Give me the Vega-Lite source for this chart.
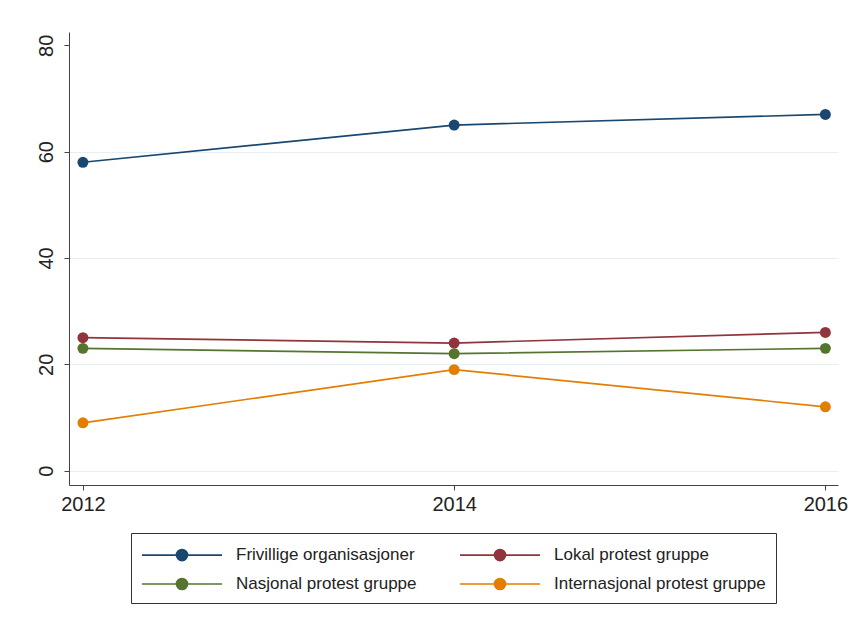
{
  "$schema": "https://vega.github.io/schema/vega-lite/v6.json",
  "width": 769,
  "height": 453,
  "padding": {"left": 69, "top": 32, "right": 17, "bottom": 142},
  "autosize": {"type": "none"},
  "background": "white",
  "data": {
    "values": [
      {"year": 2012, "series": "Frivillige organisasjoner", "value": 58},
      {"year": 2014, "series": "Frivillige organisasjoner", "value": 65},
      {"year": 2016, "series": "Frivillige organisasjoner", "value": 67},
      {"year": 2012, "series": "Lokal protest gruppe", "value": 25},
      {"year": 2014, "series": "Lokal protest gruppe", "value": 24},
      {"year": 2016, "series": "Lokal protest gruppe", "value": 26},
      {"year": 2012, "series": "Nasjonal protest gruppe", "value": 23},
      {"year": 2014, "series": "Nasjonal protest gruppe", "value": 22},
      {"year": 2016, "series": "Nasjonal protest gruppe", "value": 23},
      {"year": 2012, "series": "Internasjonal protest gruppe", "value": 9},
      {"year": 2014, "series": "Internasjonal protest gruppe", "value": 19},
      {"year": 2016, "series": "Internasjonal protest gruppe", "value": 12}
    ]
  },
  "mark": {"type": "line", "strokeWidth": 1.7, "point": {"filled": true, "size": 120, "opacity": 1}},
  "encoding": {
    "x": {
      "field": "year", "type": "quantitative",
      "scale": {"domain": [2011.925, 2016.068], "nice": false, "zero": false},
      "axis": {"values": [2012, 2014, 2016], "format": "d", "title": null, "grid": false, "labelPadding": 4}
    },
    "y": {
      "field": "value", "type": "quantitative",
      "scale": {"domain": [-2.7, 82.5], "nice": false, "zero": false},
      "axis": {
        "values": [0, 20, 40, 60, 80], "title": null, "labelAngle": -90,
        "labelAlign": "center", "labelBaseline": "bottom", "labelPadding": 8,
        "grid": true,
        "gridColor": {"condition": {"test": "datum.value == 80", "value": "transparent"}, "value": "#e6eff2"}
      }
    },
    "color": {
      "field": "series", "type": "nominal",
      "scale": {
        "domain": ["Frivillige organisasjoner", "Lokal protest gruppe", "Nasjonal protest gruppe", "Internasjonal protest gruppe"],
        "range": ["#1a476f", "#90353b", "#55752f", "#e37e00"]
      },
      "legend": {
        "title": null, "orient": "bottom", "direction": "horizontal", "columns": 2,
        "symbolType": "M-1,0L6.273,0M2.136,0A0.5,0.5 0 1,1 3.136,0A0.5,0.5 0 1,1 2.136,0Z",
        "symbolSize": 484, "symbolStrokeWidth": 1.7, "symbolFillColor": null,
        "labelFontSize": 17, "labelFont": "Liberation Sans", "labelColor": "#222222",
        "labelOffset": 71, "columnPadding": 39, "rowPadding": 8,
        "padding": 10, "strokeColor": "#333333", "labelLimit": 400, "offset": 19
      }
    }
  },
  "config": {
    "view": {"stroke": null},
    "axis": {
      "domainColor": "#444444", "domainWidth": 1, "tickColor": "#444444", "tickSize": 5,
      "labelFont": "Liberation Sans", "labelFontSize": 20, "labelColor": "#222222"
    },
    "legend": {"layout": {"bottom": {"anchor": "middle"}}}
  }
}
